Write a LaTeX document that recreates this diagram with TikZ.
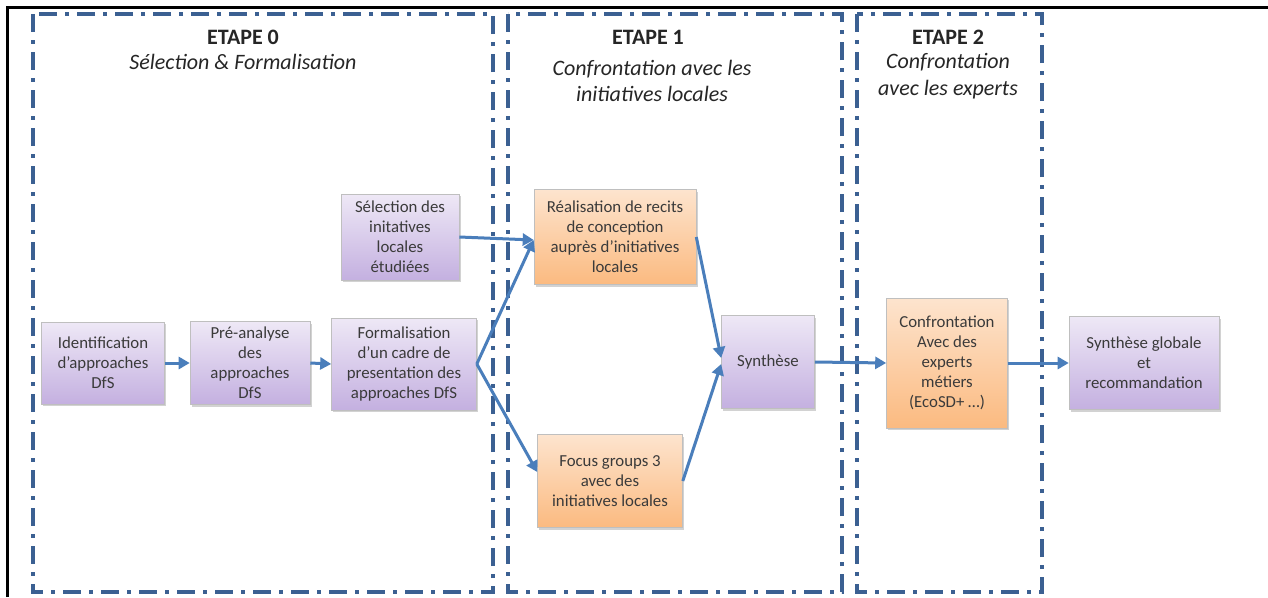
\documentclass[tikz,border=0pt]{standalone}
\usepackage{fontspec}
\setmainfont{Carlito}
\usetikzlibrary{arrows.meta,shadows}
\definecolor{frameblue}{HTML}{3B6092}
\definecolor{arrowblue}{HTML}{4A7EBB}
\definecolor{txt}{HTML}{3A3A3A}
\definecolor{purpTop}{HTML}{EEE8F6}
\definecolor{purpBot}{HTML}{C4B0E0}
\definecolor{orTop}{HTML}{FDE4CE}
\definecolor{orBot}{HTML}{FBBA80}
\begin{document}
\begin{tikzpicture}[x=1pt,y=-1pt,
  stagebox/.style={draw=frameblue, line width=3.8pt, dash pattern=on 18pt off 8pt on 4pt off 8pt},
  procbox/.style={draw=black!25, line width=0.6pt, align=center, text=txt,
     font=\fontsize{16.8}{20}\selectfont, inner sep=2pt,
     drop shadow={opacity=0.35, shadow xshift=1.5pt, shadow yshift=-2pt}},
  purp/.style={procbox, top color=purpTop, bottom color=purpBot},
  oran/.style={procbox, top color=orTop, bottom color=orBot},
  flow/.style={draw=arrowblue, line width=3pt, -{Triangle[length=11pt,width=12pt]}},
  head/.style={text=black!85, align=center, font=\fontsize{22}{26.5}\selectfont\bfseries},
  sub/.style={text=black!85, align=center, font=\fontsize{22}{26.5}\selectfont\itshape}
]
\useasboundingbox (0,0) rectangle (1268,597);
\fill[white] (0,0) rectangle (1268,597);
% outer frame
\draw[black, line width=2.2pt] (7.5,597) -- (7.5,7.5) -- (1268,7.5);
% stage frames
\draw[stagebox] (33,14) rectangle (493,592);
\draw[stagebox] (508,14) rectangle (842,592);
\draw[stagebox] (857,14) rectangle (1042,592);
% headings
\node[head] (h0) at (243,37) {ETAPE 0};
\node[sub] (s0) at (243,62) {Sélection \& Formalisation};
\node[head] (h1) at (648,37) {ETAPE 1};
\node[sub] (s1) at (652,81) {Confrontation avec les\\initiatives locales};
\node[head] (h2) at (948,37) {ETAPE 2};
\node[sub] (s2) at (948,76) {Confrontation\\avec les experts};
% process nodes
\node[purp, minimum width=123pt, minimum height=82pt] (ident) at (103,363) {Identification\\d’approaches\\DfS};
\node[purp, minimum width=120pt, minimum height=83pt] (pre) at (250,363) {Pré-analyse\\des\\approaches\\DfS};
\node[purp, minimum width=145pt, minimum height=92pt] (form) at (404,364) {Formalisation\\d’un cadre de\\presentation des\\approaches DfS};
\node[purp, minimum width=118pt, minimum height=86pt] (sel) at (400,237) {Sélection des\\initatives\\locales\\étudiées};
\node[oran, minimum width=162pt, minimum height=95pt] (real) at (615,237) {Réalisation de recits\\de conception\\auprès d’initiatives\\locales};
\node[oran, minimum width=145pt, minimum height=93pt] (focus) at (610,481) {Focus groups 3\\avec des\\initiatives locales};
\node[purp, minimum width=93pt, minimum height=93pt] (synth) at (768,362) {Synthèse};
\node[oran, minimum width=121pt, minimum height=130pt] (conf) at (947,363) {Confrontation\\Avec des\\experts\\métiers\\(EcoSD+ …)};
\node[purp, minimum width=150pt, minimum height=93pt] (glob) at (1144,363) {Synthèse globale\\et\\recommandation};
% arrows
\draw[flow] (ident.east) -- (pre.west);
\draw[flow] (pre.east) -- (form.west);
\draw[flow] (sel.east) -- ([yshift=-3pt]real.west);
\draw[flow] (form.east) -- ([yshift=-3pt]real.west);
\draw[flow] (form.east) -- ([yshift=9pt]focus.west);
\draw[flow] (real.east) -- ([yshift=4pt]synth.west);
\draw[flow] (focus.east) -- ([yshift=-2pt]synth.west);
\draw[flow] (synth.east) -- (conf.west);
\draw[flow] (conf.east) -- (glob.west);
\end{tikzpicture}
\end{document}
